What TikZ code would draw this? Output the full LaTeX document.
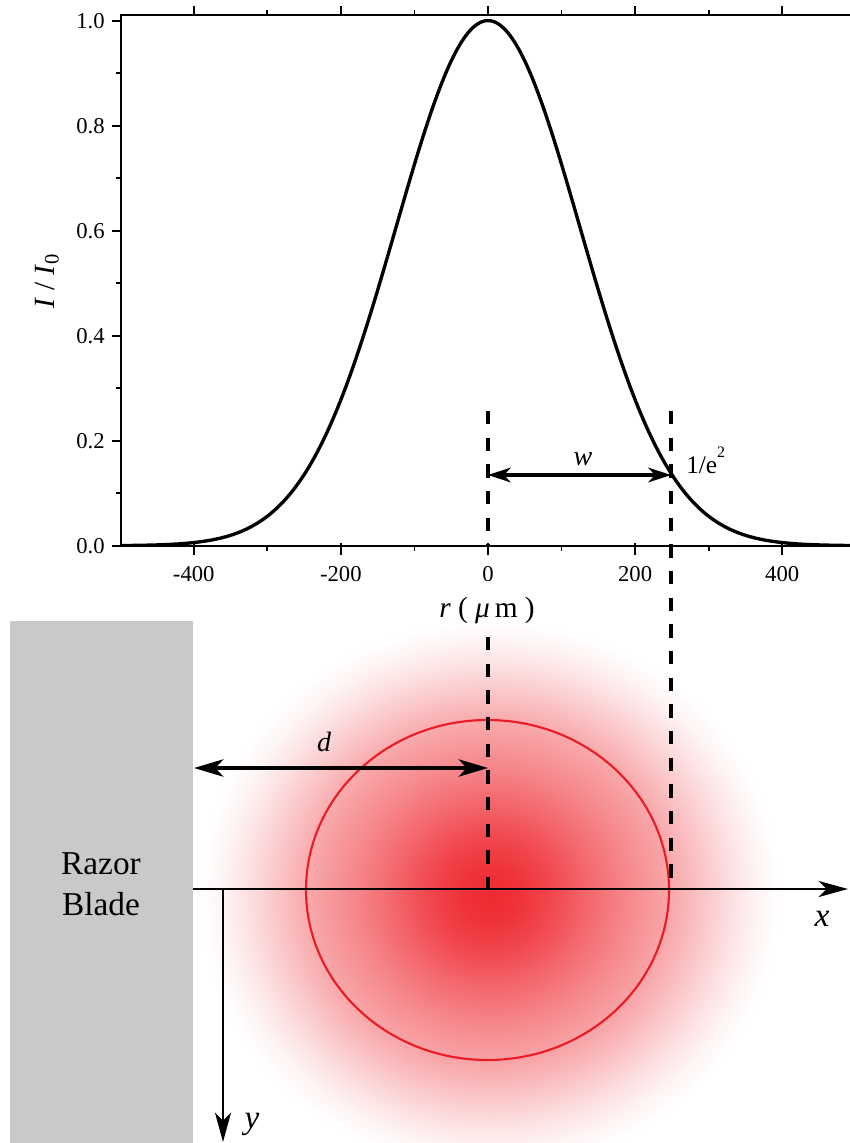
\documentclass[tikz,border=0pt]{standalone}
\usepackage{fontspec}
\setmainfont{Liberation Serif}
\usetikzlibrary{arrows.meta}
\definecolor{bladegray}{RGB}{200,201,203}
\definecolor{spotred}{RGB}{237,28,36}
\colorlet{s0}{spotred!94!white}
\colorlet{sA}{spotred!90!white}
\colorlet{sB}{spotred!82!white}
\colorlet{sC}{spotred!71!white}
\colorlet{sD}{spotred!60!white}
\colorlet{sE}{spotred!50!white}
\colorlet{sF}{spotred!39!white}
\colorlet{sG}{spotred!27!white}
\colorlet{sH}{spotred!15!white}
\colorlet{sI}{spotred!5!white}
\pgfdeclareradialshading{spot}{\pgfpoint{0bp}{0bp}}{%
color(0bp)=(s0); color(2.5bp)=(sA); color(5bp)=(sB); color(7.5bp)=(sC);
color(10bp)=(sD); color(12.5bp)=(sE); color(15.5bp)=(sF); color(18bp)=(sG);
color(20.5bp)=(sH); color(23bp)=(sI); color(25bp)=(white); color(50bp)=(white)}
\begin{document}
\begin{tikzpicture}[x=0.75pt,y=-0.75pt,
  axisline/.style={line width=1.75pt},
  tickmark/.style={line width=1.4pt},
  ticklab/.style={font=\fontsize{17}{17}\selectfont, inner sep=0pt},
  guide/.style={line width=2.5pt, dash pattern=on 10pt off 10pt},
  dimw/.style={line width=2.5pt, {Stealth[length=17pt,width=11pt,inset=5pt]}-{Stealth[length=17pt,width=11pt,inset=5pt]}},
  dimd/.style={line width=2.5pt, {Stealth[length=22pt,width=13pt,inset=6pt]}-{Stealth[length=22pt,width=13pt,inset=6pt]}},
  coordaxis/.style={line width=2.1pt, -{Stealth[length=22pt,width=12pt,inset=6pt]}},
  lab/.style={font=\fontsize{21}{21}\selectfont\itshape, inner sep=0pt},
  biglab/.style={font=\fontsize{25}{25}\selectfont\itshape, inner sep=0pt},
]
\useasboundingbox (0,0) rectangle (850,1143);

% beam spot shading
\shade[shading=spot] (490,895) ellipse [x radius=290, y radius=275];

% razor blade
\fill[bladegray] (10,621) rectangle (193,1143);
\node[font=\fontsize{25}{30.75}\selectfont, align=center] (blade) at (101,884) {Razor\\Blade};

% 1/e^2 contour
\draw[spotred, line width=1.6pt] (487.5,890) ellipse [x radius=181.5, y radius=170];

% plot curve
\begin{scope}
\clip (121,0) rectangle (850,545.7);
\draw[line width=2.5pt, line join=round] plot[domain=-500:492, samples=241, smooth]
  ({488+0.7356*\x},{545.7-525*exp(-2*(\x/250)*(\x/250))});
\end{scope}

% axes frame
\draw[axisline] (850,15) -- (121,15) -- (121,545.7) -- (850,545.7);

% x ticks
\foreach \v in {-400,-200,0,200,400} {
  \draw[tickmark] ({488+0.7356*\v},543) -- ({488+0.7356*\v},555);
  \draw[tickmark] ({488+0.7356*\v},15) -- ++(0,-9);
  \node[ticklab] (xt\v) at ({488+0.7356*\v},574) {\v};
}
\foreach \v in {-300,-100,100,300} {
  \draw[tickmark] ({488+0.7356*\v},545.7) -- ++(0,5);
  \draw[tickmark] ({488+0.7356*\v},15) -- ++(0,-5);
}
% y ticks
\foreach \v/\l in {0/0.0,0.2/0.2,0.4/0.4,0.6/0.6,0.8/0.8,1.0/1.0} {
  \draw[tickmark] (121,{545.7-525*\v}) -- ++(-9,0);
  \node[ticklab, anchor=east] (yt\l) at (105,{545.7-525*\v}) {\l};
}
\foreach \v in {0.1,0.3,0.5,0.7,0.9} {
  \draw[tickmark] (121,{545.7-525*\v}) -- ++(-5,0);
}

% axis titles
\node[rotate=90, font=\fontsize{22}{22}\selectfont, inner sep=0pt] (ylab) at (47,281)
  {\textit{I} / \textit{I}\textsubscript{0}};
\node[font=\fontsize{22}{22}\selectfont, inner sep=0pt, anchor=base] (xlab) at (487,617)
  {\textit{r} ( \textit{μ}\,m )};

% guide lines
\coordinate (g0top) at (488,411);
\coordinate (g0mid) at (488,545.7);
\coordinate (g0low) at (488,637);
\coordinate (g0bot) at (488,889);
\coordinate (g1top) at (671,411);
\coordinate (g1bot) at (671,889);
\draw[guide] (g0top) -- (g0mid);
\draw[guide] (g0low) -- (g0bot);
\draw[guide] (g1top) -- (g1bot);

% w arrow
\coordinate (wl) at (488,475);
\coordinate (wr) at (671,475);
\draw[dimw] (wl) -- (wr);
\node[lab] (wlab) at (583,459) {w};
\node[font=\fontsize{19}{19}\selectfont, inner sep=0pt, anchor=base west] (elab) at (686,473)
  {1/e\raisebox{0.6em}{\fontsize{12}{12}\selectfont 2}};

% d arrow
\coordinate (dl) at (194,768);
\coordinate (dr) at (488,768);
\draw[dimd] (dl) -- (dr);
\node[lab] (dlab) at (324,742) {d};

% coordinate axes
\coordinate (xa0) at (193,889);
\coordinate (xa1) at (848,889);
\coordinate (ya0) at (223,889);
\coordinate (ya1) at (223,1142);
\draw[coordaxis] (xa0) -- (xa1);
\draw[coordaxis] (ya0) -- (ya1);
\node[biglab] (xl) at (822,919) {x};
\node[biglab] (yl) at (252,1124) {y};
\end{tikzpicture}
\end{document}
